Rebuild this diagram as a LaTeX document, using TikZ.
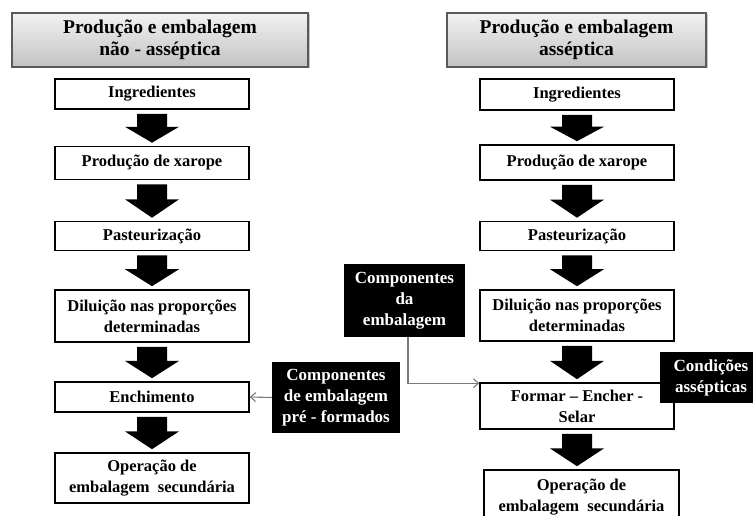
\documentclass[tikz,border=0pt]{standalone}
\usepackage{fontspec}
\setmainfont{Liberation Serif}
\usetikzlibrary{calc,shadows,arrows.meta}

\definecolor{headline}{HTML}{5A5A5A}
\definecolor{headtop}{HTML}{F2F2F2}
\definecolor{headbot}{HTML}{C2C2C2}
\definecolor{linkgray}{HTML}{7A7A7A}

\tikzset{
  headbox/.style={draw=headline, line width=1.2pt, top color=headtop, bottom color=headbot,
    drop shadow={shadow xshift=1.5pt, shadow yshift=-1.5pt, opacity=0.45},
    minimum height=54pt, inner sep=0pt, align=center,
    font=\fontsize{19.5}{22}\selectfont\bfseries},
  stepbox/.style={draw=black, line width=1.6pt, fill=white, minimum width=194pt,
    inner sep=0pt, align=center, font=\fontsize{16.5}{21}\selectfont\bfseries},
  darkbox/.style={fill=black, text=white, inner sep=0pt, align=center,
    font=\fontsize{17}{21}\selectfont\bfseries},
  link/.style={draw=linkgray, line width=1.1pt, -{Straight Barb[length=5pt,width=9pt]}}
}

% thick block arrow from the bottom of one box to the top of the next
\newcommand{\blockarr}[2]{%
  \fill let \p1=([yshift=-4pt]#1.south), \p2=([yshift=3pt]#2.north),
            \n1={\y2+0.55*(\y1-\y2)} in
    (\x1-15pt,\y1) -- (\x1+15pt,\y1) -- (\x1+15pt,\n1) -- (\x1+27pt,\n1)
    -- (\x1,\y2) -- (\x1-27pt,\n1) -- (\x1-15pt,\n1) -- cycle;}

\begin{document}
\begin{tikzpicture}[x=1pt,y=-1pt]
\useasboundingbox (0,0) rectangle (753,516);
\clip (0,0) rectangle (753,516);
\fill[white] (0,0) rectangle (753,516);

% column headings
\node[headbox, minimum width=296pt] (hl) at (160,40) {Produção e embalagem\\não - asséptica};
\node[headbox, minimum width=259pt] (hr) at (576.5,40) {Produção e embalagem\\asséptica};

% non-aseptic line
\node[stepbox, minimum height=30pt] (l1) at (152,94) {Ingredientes};
\node[stepbox, minimum height=33pt] (l2) at (152,163) {Produção de xarope};
\node[stepbox, minimum height=29pt] (l3) at (152,236) {Pasteurização};
\node[stepbox, minimum height=52pt] (l4) at (152,316) {Diluição nas proporções\\determinadas};
\node[stepbox, minimum height=30pt] (l5) at (152,397) {Enchimento};
\node[stepbox, minimum height=50pt] (l6) at (152,478) {Operação de\\embalagem\ \ secundária};

% aseptic line
\node[stepbox, minimum height=31pt] (r1) at (577,94.5) {Ingredientes};
\node[stepbox, minimum height=35pt] (r2) at (577,162.5) {Produção de xarope};
\node[stepbox, minimum height=29pt] (r3) at (577,236) {Pasteurização};
\node[stepbox, minimum height=51pt] (r4) at (577,315.5) {Diluição nas proporções\\determinadas};
\node[stepbox, minimum height=46pt] (r5) at (577,406) {Formar -- Encher -\\Selar};
\node[stepbox, minimum height=54pt, minimum width=195pt] (r6) at (581.5,497) {Operação de\\embalagem\ \ secundária};

% flow arrows
\blockarr{l1}{l2}
\blockarr{l2}{l3}
\blockarr{l3}{l4}
\blockarr{l4}{l5}
\blockarr{l5}{l6}
\blockarr{r1}{r2}
\blockarr{r2}{r3}
\blockarr{r3}{r4}
\blockarr{r4}{r5}
\blockarr{r5}{r6}

% packaging inputs
\node[darkbox, minimum width=128pt, minimum height=71pt] (ka) at (336,397.5) {Componentes\\de embalagem\\pré - formados};
\node[darkbox, minimum width=121pt, minimum height=73pt] (kb) at (404.5,300.5) {Componentes\\da\\embalagem};
\node[darkbox, minimum width=102pt, minimum height=51pt] (kc) at (711,377.5) {Condições\\assépticas};

\draw[link] (ka.west) -- (l5.east);
\draw[link] ([xshift=3.5pt]kb.south) |- ([yshift=-1pt]r5.north west);
\end{tikzpicture}
\end{document}
